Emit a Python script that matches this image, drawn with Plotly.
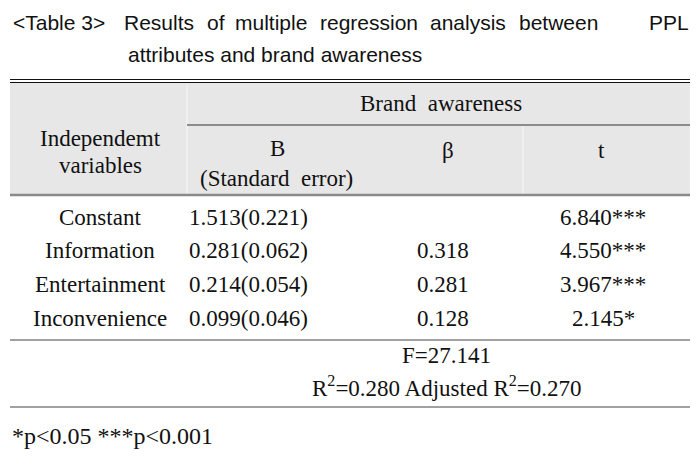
import plotly.graph_objects as go

# ---- data ----
title_line1 = ["<Table&nbsp;3>", "Results", "of", "multiple", "regression", "analysis", "between", "PPL"]
title_line2 = "attributes and brand awareness"
variables = ["Constant", "Information", "Entertainment", "Inconvenience"]
b_coef = [1.513, 0.281, 0.214, 0.099]
std_err = [0.221, 0.062, 0.054, 0.046]
beta = [None, 0.318, 0.281, 0.128]
t_vals = [6.840, 4.550, 3.967, 2.145]
sig = ["***", "***", "***", "*"]
f_stat = 27.141
r2 = 0.280
adj_r2 = 0.270
footnote = "*p<0.05 ***p<0.001"

# ---- layout constants ----
W, H = 699, 459
OFF = 8  # page body margin compensation
L, R = 10, 690
SERIF = "Liberation Serif, Times New Roman, serif"
SANS = "Liberation Sans, Arial, sans-serif"
FS = 23
col_x = [100, 248, 443, 603]
row_y = [217, 250, 284, 318]
title_x = [11, 122, 205, 233, 318, 428, 517, 647]

fig = go.Figure()
ann = []
shapes = []

def txt(x, y, s, size=FS, font=SERIF, anchor="center"):
    ann.append(dict(x=x, y=y, xref="x", yref="y", text=s, showarrow=False,
                    xanchor=anchor, yanchor="middle",
                    font=dict(family=font, size=size, color="#111")))

def hline(y, x0=L, x1=R, color="#222", width=1.2):
    shapes.append(dict(type="line", xref="x", yref="y", x0=x0, x1=x1, y0=y, y1=y,
                       line=dict(color=color, width=width)))

def vline(x, y0, y1, color="#f5f5f5", width=1.2):
    shapes.append(dict(type="line", xref="x", yref="y", x0=x, x1=x, y0=y0, y1=y1,
                       line=dict(color=color, width=width)))

# title
for w, x in zip(title_line1, title_x):
    txt(x, 22, w, size=21, font=SANS, anchor="left")
txt(126, 54, title_line2, size=21, font=SANS, anchor="left")

# header background
shapes.append(dict(type="rect", xref="x", yref="y", x0=L, x1=R, y0=83, y1=194,
                   fillcolor="#e7e7e7", line=dict(width=0), layer="below"))
vline(187, 84, 194)
vline(523, 126, 194)
hline(79.5, width=1.2, color="#111")
hline(82.5, width=1.2, color="#111")
hline(125, x0=187, color="#333", width=1.2)
hline(195, color="#8a8a8a", width=2.5)
hline(340, color="#444", width=1.2)
hline(407, color="#444", width=1.2)

# header text
txt(col_x[0], 138, "Independemt")
txt(col_x[0], 165, "variables")
txt(441, 103, "Brand&nbsp;&nbsp;awareness")
txt(277, 148, "B")
txt(276, 178, "(Standard&nbsp;&nbsp;error)")
txt(448, 150, "β")
txt(601, 150, "t")

# body
for i, v in enumerate(variables):
    y = row_y[i]
    txt(col_x[0], y, v)
    txt(col_x[1], y, f"{b_coef[i]:.3f}({std_err[i]:.3f})")
    if beta[i] is not None:
        txt(col_x[2], y, f"{beta[i]:.3f}")
    txt(col_x[3], y, f"{t_vals[i]:.3f}{sig[i]}")

txt(446, 355, f"F={f_stat:.3f}")
txt(447, 386, f"R<sup>2</sup>={r2:.3f} Adjusted R<sup>2</sup>={adj_r2:.3f}")
txt(10, 436, footnote, size=24, anchor="left")

fig.update_layout(
    width=W, height=H, margin=dict(l=0, r=0, t=0, b=0),
    paper_bgcolor="white", plot_bgcolor="white",
    xaxis=dict(range=[OFF, W + OFF], visible=False, fixedrange=True),
    yaxis=dict(range=[H + OFF, OFF], visible=False, fixedrange=True),
    annotations=ann, shapes=shapes, showlegend=False,
)
fig.write_html("out.html")
